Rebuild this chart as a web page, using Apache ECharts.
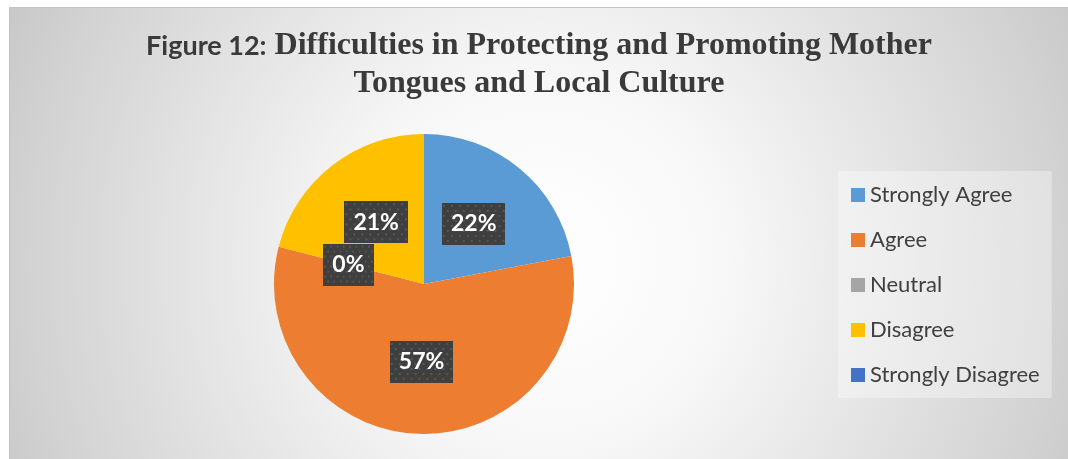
<!DOCTYPE html>
<html>
<head>
<meta charset="utf-8">
<script src="https://cdn.jsdelivr.net/npm/echarts@6/dist/echarts.min.js"></script>
<style>
    html, body { margin: 0; padding: 0; background: #fff; overflow: hidden; }
    #chart { width: 1068px; height: 459px; }
</style>
</head>
<body>
<div id="chart"></div>
<script>
    // data
    var categories = ['Strongly Agree', 'Agree', 'Neutral', 'Disagree', 'Strongly Disagree'];
    var values = [22, 57, 0, 21, 0];
    var hiddenLabels = ['Strongly Disagree'];   // no label drawn for this one in the original
    var titleLead = 'Figure 12:';
    var titleLines = ['Difficulties in Protecting and Promoting Mother', 'Tongues and Local Culture'];

    var palette = ['#5B9BD5', '#ED7D31', '#A5A5A5', '#FFC000', '#4472C4'];

    // dark dotted box behind the percentages
    function makeBoxBg(w, h) {
        var c = document.createElement('canvas');
        c.width = w; c.height = h;
        var ctx = c.getContext('2d');
        ctx.fillStyle = '#3f3f3f';
        ctx.fillRect(0, 0, w, h);
        ctx.fillStyle = '#575757';
        var row = 0;
        for (var y = 2; y < h; y += 5) {
            for (var x = (row % 2) ? 5 : 1; x < w; x += 8) {
                ctx.fillRect(x, y, 2, 2);
            }
            row++;
        }
        return c;
    }

    var chart = echarts.init(document.getElementById('chart'));

    var pieData = categories.map(function (name, i) {
        return {
            name: name,
            value: values[i],
            label: { show: hiddenLabels.indexOf(name) < 0 }
        };
    });

    chart.setOption({
        animation: false,
        color: palette,
        graphic: {
            elements: [{
                type: 'rect',
                z: -10,
                shape: { x: 9.5, y: 7.5, width: 1070, height: 460 },
                style: {
                    stroke: '#c2c2c2',
                    lineWidth: 1,
                    fill: {
                        type: 'radial', x: 0.5, y: 0.55, r: 1.29,
                        colorStops: [
                            { offset: 0, color: '#ffffff' },
                            { offset: 0.3, color: '#f8f8f8' },
                            { offset: 0.66, color: '#e0e0e0' },
                            { offset: 0.87, color: '#d2d2d2' },
                            { offset: 1, color: '#c8c8c8' }
                        ]
                    }
                },
                silent: true
            }]
        },
        title: {
            text: '{a|' + titleLead + '} {b|' + titleLines[0] + '}\n{b|' + titleLines[1] + '}',
            left: 539,
            top: 27,
            textAlign: 'center',
            padding: 0,
            textStyle: {
                fontFamily: 'Liberation Serif',
                fontWeight: 'bold',
                fontSize: 32,
                lineHeight: 38,
                color: '#3a3a3a',
                rich: {
                    a: { fontFamily: 'Lato', fontWeight: 'bold', fontSize: 27, lineHeight: 38, color: '#3a3a3a' },
                    b: { fontFamily: 'Liberation Serif', fontWeight: 'bold', fontSize: 32, lineHeight: 38, color: '#3a3a3a' }
                }
            }
        },
        legend: {
            orient: 'vertical',
            left: 838,
            top: 171,
            icon: 'rect',
            itemWidth: 14,
            itemHeight: 14,
            itemGap: 23,
            padding: [13, 12, 12, 13],
            backgroundColor: 'rgba(255,255,255,0.35)',
            selectedMode: false,
            textStyle: { fontFamily: 'Lato', fontSize: 22, lineHeight: 20, color: '#404040' },
            data: categories
        },
        series: [{
            type: 'pie',
            center: [424, 284],
            radius: 150,
            startAngle: 90,
            clockwise: true,
            avoidLabelOverlap: false,
            emphasis: { disabled: true },
            labelLine: { show: false },
            label: {
                position: 'inside',
                formatter: function (p) { return Math.round(p.percent) + '%'; },
                color: '#fff',
                fontFamily: 'Lato',
                fontWeight: 'bold',
                fontSize: 23,
                lineHeight: 22,
                padding: [10, 9],
                backgroundColor: { image: makeBoxBg(64, 42) },
                shadowColor: 'rgba(0,0,0,0.45)',
                shadowBlur: 4,
                shadowOffsetX: 3,
                shadowOffsetY: 3
            },
            data: pieData
        }]
    });
</script>
</body>
</html>
